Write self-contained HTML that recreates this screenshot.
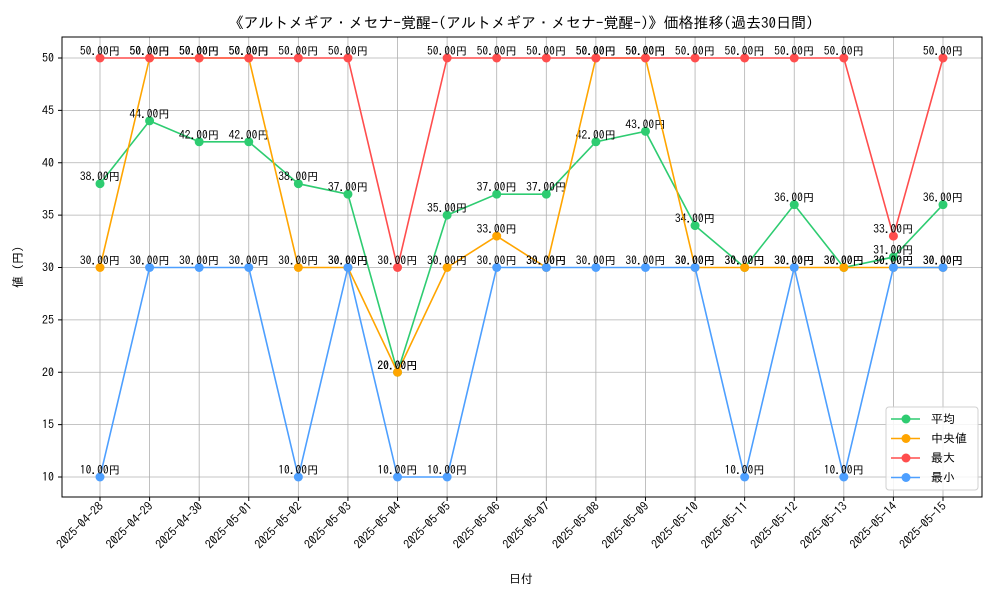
<!DOCTYPE html>
<html><head><meta charset="utf-8"><style>
body{margin:0;background:#fff}
svg text{font-family:"IPAGothic","Liberation Sans","Noto Sans CJK JP",sans-serif}
</style></head><body>
<svg id="c" width="1000" height="600" xmlns="http://www.w3.org/2000/svg">
<rect width="1000" height="600" fill="#fff"/>
<text x="521" y="28" font-size="15" text-anchor="middle">《アルトメギア・メセナ−覚醒−(アルトメギア・メセナ−覚醒−)》価格推移(過去30日間)</text>
<g id="grid"></g><g id="series"></g><g id="axes"></g>
<text x="521" y="583" font-size="12" text-anchor="middle">日付</text>
<text x="0" y="0" font-size="12" text-anchor="middle" transform="translate(22,267) rotate(-90)">値 (円)</text>
<g id="legend"></g>
</svg>
<script>
const categories=["2025-04-28","2025-04-29","2025-04-30","2025-05-01","2025-05-02","2025-05-03","2025-05-04","2025-05-05","2025-05-06","2025-05-07","2025-05-08","2025-05-09","2025-05-10","2025-05-11","2025-05-12","2025-05-13","2025-05-14","2025-05-15"];
const avgValues=[38,44,42,42,38,37,20,35,37,37,42,43,34,30,36,30,31,36];
const medianValues=[30,50,50,50,30,30,20,30,33,30,50,50,30,30,30,30,30,30];
const maxValues=[50,50,50,50,50,50,30,50,50,50,50,50,50,50,50,50,33,50];
const minValues=[10,30,30,30,10,30,10,10,30,30,30,30,30,10,30,10,30,30];
const yTicks=[10,15,20,25,30,35,40,45,50];
const seriesNames=["平均","中央値","最大","最小"];
const NS="http://www.w3.org/2000/svg";
const L=62,R=982,T=37,B=497;
const x0=100,x1=943;
function xs(i){return x0+(x1-x0)*i/(categories.length-1);}
function ys(v){return 477+(10-v)*(477-58)/40;}
function mk(tag,attrs,parent){const e=document.createElementNS(NS,tag);for(const k in attrs)e.setAttribute(k,attrs[k]);parent.appendChild(e);return e;}
const grid=document.getElementById('grid'),axes=document.getElementById('axes'),sg=document.getElementById('series');
yTicks.forEach(v=>{
 const y=ys(v);
 const g=mk('line',{x1:L,x2:R,y1:y,y2:y,stroke:'#b0b0b0','stroke-width':0.8},grid);
 
 
 mk('line',{x1:L-4,x2:L,y1:y,y2:y,stroke:'#000'},axes);
 const t=mk('text',{x:L-8,y:y+4,'font-size':12,'text-anchor':'end'},axes);
 t.textContent=v;
 
 
});
categories.forEach((c,i)=>{
 const x=xs(i);
 const g=mk('line',{x1:x,x2:x,y1:T,y2:B,stroke:'#b0b0b0','stroke-width':0.8},grid);
 
 
 mk('line',{x1:x,x2:x,y1:B,y2:B+4,stroke:'#000'},axes);
 const t=mk('text',{x:0,y:0,'font-size':12,'text-anchor':'end',transform:`translate(${x+4},${B+10}) rotate(-45)`},axes);
 t.textContent=c;
 
 
});
const fr=mk('rect',{x:L,y:T,width:R-L,height:B-T,fill:'none',stroke:'#000','stroke-width':1},axes);


const all=[[avgValues,'#2ecc71','avg'],[medianValues,'#ffa500','median'],[maxValues,'#ff4d4d','max'],[minValues,'#4d9fff','min']];
all.forEach(([vals,col,nm])=>{
 const g=mk('g',{},sg);
 
 
 const p=mk('polyline',{points:vals.map((v,i)=>xs(i)+','+ys(v)).join(' '),fill:'none',stroke:col,'stroke-width':1.6},g);
 
 
 vals.forEach((v,i)=>{
  const c=mk('circle',{cx:xs(i),cy:ys(v),r:4.5,fill:col},g);
  
  
  const t=mk('text',{x:xs(i),y:ys(v)-3,'font-size':11.5,'text-anchor':'middle'},g);
  t.textContent=v.toFixed(2)+'円';
  
  
 });
});
const lg=document.getElementById('legend');
mk('rect',{x:886,y:407,width:92,height:83,rx:3,fill:'#fff','fill-opacity':0.85,stroke:'#d0d0d0'},lg);
all.forEach(([v,col,nm],k)=>{
 const y=419+k*19.5;
 const e=mk('g',{},lg);
 
 
 mk('line',{x1:891,x2:920,y1:y,y2:y,stroke:col,'stroke-width':1.6},e);
 mk('circle',{cx:906,cy:y,r:4.5,fill:col},e);
 const t=mk('text',{x:931,y:y+4,'font-size':12},e);
 t.textContent=seriesNames[k];
});
</script>
</body></html>
